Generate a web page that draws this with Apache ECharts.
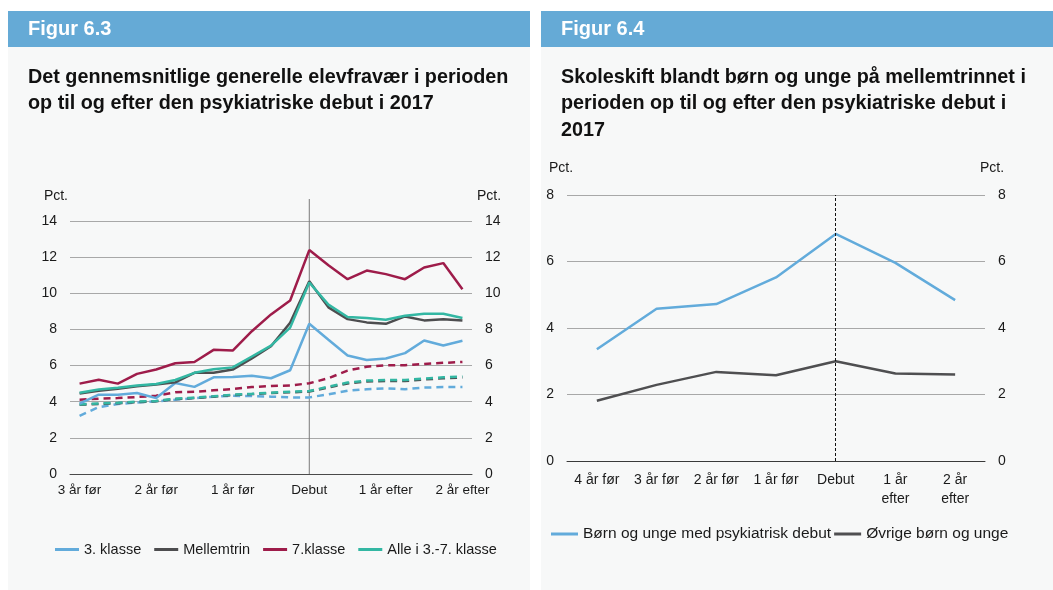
<!DOCTYPE html>
<html>
<head>
<meta charset="utf-8">
<script src="https://cdn.jsdelivr.net/npm/echarts@6/dist/echarts.min.js"></script>
<style>
  html, body { margin: 0; padding: 0; background: #fff; }
  #main { width: 1053px; height: 590px; }
</style>
</head>
<body>
<div id="main"></div>
<script>
// Figur 6.3 - kvartaler fra 3 år før til 2 år efter debut
const kvartaler = ['3 år før', '-11', '-10', '-9', '2 år før', '-7', '-6', '-5', '1 år før', '-3', '-2', '-1',
  'Debut', '+1', '+2', '+3', '1 år efter', '+5', '+6', '+7', '2 år efter'];
const klasse3 = [3.89, 4.39, 4.39, 4.48, 4.2, 5.04, 4.82, 5.35, 5.37, 5.44, 5.3, 5.74,
  8.31, 7.43, 6.56, 6.31, 6.39, 6.69, 7.39, 7.11, 7.37];
const mellemtrin = [4.45, 4.6, 4.72, 4.85, 4.95, 5.07, 5.6, 5.6, 5.78, 6.4, 7.07, 8.37,
  10.67, 9.22, 8.57, 8.39, 8.31, 8.72, 8.5, 8.57, 8.5];
const klasse7 = [5.0, 5.22, 5.0, 5.54, 5.78, 6.13, 6.2, 6.87, 6.83, 7.9, 8.83, 9.6,
  12.39, 11.55, 10.78, 11.26, 11.06, 10.78, 11.43, 11.67, 10.22];
const alle = [4.5, 4.68, 4.77, 4.9, 4.98, 5.2, 5.6, 5.8, 5.9, 6.5, 7.1, 8.1,
  10.6, 9.37, 8.69, 8.63, 8.54, 8.76, 8.87, 8.87, 8.63];
// stiplede linjer (sammenligningsgrupper)
const klasse3Ref = [3.22, 3.7, 3.87, 3.96, 4.02, 4.11, 4.2, 4.28, 4.33, 4.31, 4.28, 4.24,
  4.24, 4.41, 4.61, 4.69, 4.74, 4.69, 4.78, 4.81, 4.81];
const mellemtrinRef = [3.83, 3.88, 3.92, 3.98, 4.02, 4.15, 4.2, 4.28, 4.37, 4.42, 4.48, 4.52,
  4.56, 4.79, 5.01, 5.12, 5.15, 5.14, 5.23, 5.3, 5.34];
const klasse7Ref = [4.11, 4.17, 4.2, 4.26, 4.33, 4.52, 4.55, 4.63, 4.7, 4.81, 4.87, 4.9,
  5.02, 5.3, 5.72, 5.94, 6.02, 6.02, 6.09, 6.15, 6.2];
const alleRef = [3.85, 3.9, 3.94, 4.0, 4.04, 4.17, 4.22, 4.3, 4.39, 4.44, 4.5, 4.55,
  4.59, 4.83, 5.06, 5.17, 5.2, 5.2, 5.28, 5.35, 5.39];

// Figur 6.4
const aar = ['4 år før', '3 år før', '2 år før', '1 år før', 'Debut', '1 år\nefter', '2 år\nefter'];
const medDebut = [3.36, 4.58, 4.72, 5.52, 6.83, 5.96, 4.84];
const oevrige = [1.81, 2.29, 2.68, 2.58, 3.0, 2.63, 2.6];

const FONT = 'Liberation Sans, Arial, Helvetica, sans-serif';
const cBlue = '#62abdb', cGray = '#4d4d4f', cRed = '#9e1c4a', cTeal = '#33b7a3';
const gridColor = '#a8a8a8';

function yAxis(gridIndex, max, pos) {
  return {
    type: 'value', gridIndex: gridIndex, position: pos, min: 0, max: max, interval: 2,
    axisLine: { show: false }, axisTick: { show: false },
    axisLabel: { color: '#1a1a1a', fontSize: 14, fontFamily: FONT, margin: 13 },
    splitLine: { show: pos === 'left', lineStyle: { color: gridColor, width: 1 } },
    name: 'Pct.',
    nameLocation: 'end',
    nameTextStyle: { color: '#1a1a1a', fontSize: 14, fontFamily: FONT,
      align: pos === 'left' ? 'right' : 'left',
      padding: pos === 'left' ? [0, 2, 0, 0] : [0, 0, 0, 5] }
  };
}

function lineSeries(name, data, color, dashed, xi, yi) {
  return {
    name: name, type: 'line', data: data, xAxisIndex: xi, yAxisIndex: yi,
    symbol: 'none', smooth: false,
    lineStyle: { color: color, width: 2.5, type: dashed ? [7, 5] : 'solid' },
    itemStyle: { color: color },
    emphasis: { disabled: true }
  };
}

const headStyle = { color: '#fff', fontSize: 20, fontWeight: 'bold', fontFamily: FONT };
const subStyle = { color: '#111', fontSize: 19.8, fontWeight: 'bold', fontFamily: FONT, lineHeight: 26.5 };

const option = {
  animation: false,
  backgroundColor: '#ffffff',
  textStyle: { fontFamily: FONT },
  graphic: {
    elements: [
      { type: 'rect', shape: { x: 8, y: 11, width: 522, height: 579 }, style: { fill: '#f7f8f8' }, z: -10 },
      { type: 'rect', shape: { x: 541, y: 11, width: 512, height: 579 }, style: { fill: '#f7f8f8' }, z: -10 },
      { type: 'rect', shape: { x: 8, y: 11, width: 522, height: 36 }, style: { fill: '#65aad6' }, z: -9 },
      { type: 'rect', shape: { x: 541, y: 11, width: 512, height: 36 }, style: { fill: '#65aad6' }, z: -9 }
    ]
  },
  title: [
    { text: 'Figur 6.3', left: 28, top: 19, padding: 0, textStyle: headStyle },
    { text: 'Figur 6.4', left: 561, top: 19, padding: 0, textStyle: headStyle },
    { text: 'Det gennemsnitlige generelle elevfravær i perioden\nop til og efter den psykiatriske debut i 2017',
      left: 28, top: 64, padding: 0, textStyle: subStyle },
    { text: 'Skoleskift blandt børn og unge på mellemtrinnet i\nperioden op til og efter den psykiatriske debut i\n2017',
      left: 561, top: 64, padding: 0, textStyle: subStyle }
  ],
  legend: [
    { data: ['3. klasse', 'Mellemtrin', '7.klasse', 'Alle i 3.-7. klasse'],
      left: 50, top: 537, itemWidth: 24, itemHeight: 3, itemGap: 13, icon: 'rect',
      textStyle: { color: '#1a1a1a', fontSize: 14.5, fontFamily: FONT } },
    { data: ['Børn og unge med psykiatrisk debut', 'Øvrige børn og unge'],
      left: 546, top: 521, itemWidth: 27, itemHeight: 3, itemGap: 3, icon: 'rect',
      textStyle: { color: '#1a1a1a', fontSize: 15.5, fontFamily: FONT } }
  ],
  grid: [
    { left: 70, right: 581, top: 221, bottom: 116 },
    { left: 567, right: 68, top: 195, bottom: 129 }
  ],
  xAxis: [
    { type: 'category', gridIndex: 0, data: kvartaler, boundaryGap: true,
      axisLine: { lineStyle: { color: '#4a4a4a', width: 1 } },
      axisTick: { interval: 0, length: 4, lineStyle: { color: '#4a4a4a' } },
      axisLabel: { interval: 3, color: '#1a1a1a', fontSize: 13.5, fontFamily: FONT, margin: 9 } },
    { type: 'category', gridIndex: 1, data: aar, boundaryGap: true,
      axisLine: { lineStyle: { color: '#3a3a3a', width: 1 } },
      axisTick: { interval: 0, length: 5, lineStyle: { color: '#3a3a3a' } },
      axisLabel: { interval: 0, color: '#1a1a1a', fontSize: 14, fontFamily: FONT, margin: 10, lineHeight: 19 } }
  ],
  yAxis: [
    Object.assign(yAxis(0, 14, 'left'), { nameGap: 18 }),
    Object.assign(yAxis(0, 14, 'right'), { nameGap: 18 }),
    Object.assign(yAxis(1, 8, 'left'), { nameGap: 20, nameTextStyle: { color: '#1a1a1a', fontSize: 14, fontFamily: FONT, align: 'center', padding: [0, 0, 0, -12] } }),
    Object.assign(yAxis(1, 8, 'right'), { nameGap: 20, nameTextStyle: { color: '#1a1a1a', fontSize: 14, fontFamily: FONT, align: 'left', padding: [0, 0, 0, -5] } })
  ],
  series: [
    lineSeries('3. klasse (ref)', klasse3Ref, cBlue, true, 0, 0),
    lineSeries('Mellemtrin (ref)', mellemtrinRef, cGray, true, 0, 0),
    lineSeries('7.klasse (ref)', klasse7Ref, cRed, true, 0, 0),
    lineSeries('Alle i 3.-7. klasse (ref)', alleRef, cTeal, true, 0, 0),
    lineSeries('3. klasse', klasse3, cBlue, false, 0, 0),
    lineSeries('Mellemtrin', mellemtrin, cGray, false, 0, 0),
    lineSeries('7.klasse', klasse7, cRed, false, 0, 0),
    lineSeries('Alle i 3.-7. klasse', alle, cTeal, false, 0, 0),
    Object.assign(lineSeries('Børn og unge med psykiatrisk debut', medDebut, cBlue, false, 1, 2), {
      markLine: {
        silent: true, symbol: 'none', label: { show: false },
        lineStyle: { color: '#111', width: 1, type: [3, 2] },
        data: [{ xAxis: 'Debut' }]
      }
    }),
    lineSeries('Øvrige børn og unge', oevrige, '#4f4f51', false, 1, 2)
  ]
};

const chart = echarts.init(document.getElementById('main'), null, { renderer: 'canvas' });
chart.setOption(option);

// lodret linje ved debut i figur 6.3 (går op over plottet)
const xDebut = chart.convertToPixel({ xAxisIndex: 0 }, 'Debut');
const yTop = chart.convertToPixel({ yAxisIndex: 0 }, 14) - 22;
const yBund = chart.convertToPixel({ yAxisIndex: 0 }, 0);
chart.setOption({
  graphic: {
    elements: [{ id: 'debutLinje', type: 'line', z: 1,
      shape: { x1: xDebut, y1: yTop, x2: xDebut, y2: yBund },
      style: { stroke: '#7a7a7a', lineWidth: 1 } }]
  }
});

window.addEventListener('resize', chart.resize);
</script>
</body>
</html>
